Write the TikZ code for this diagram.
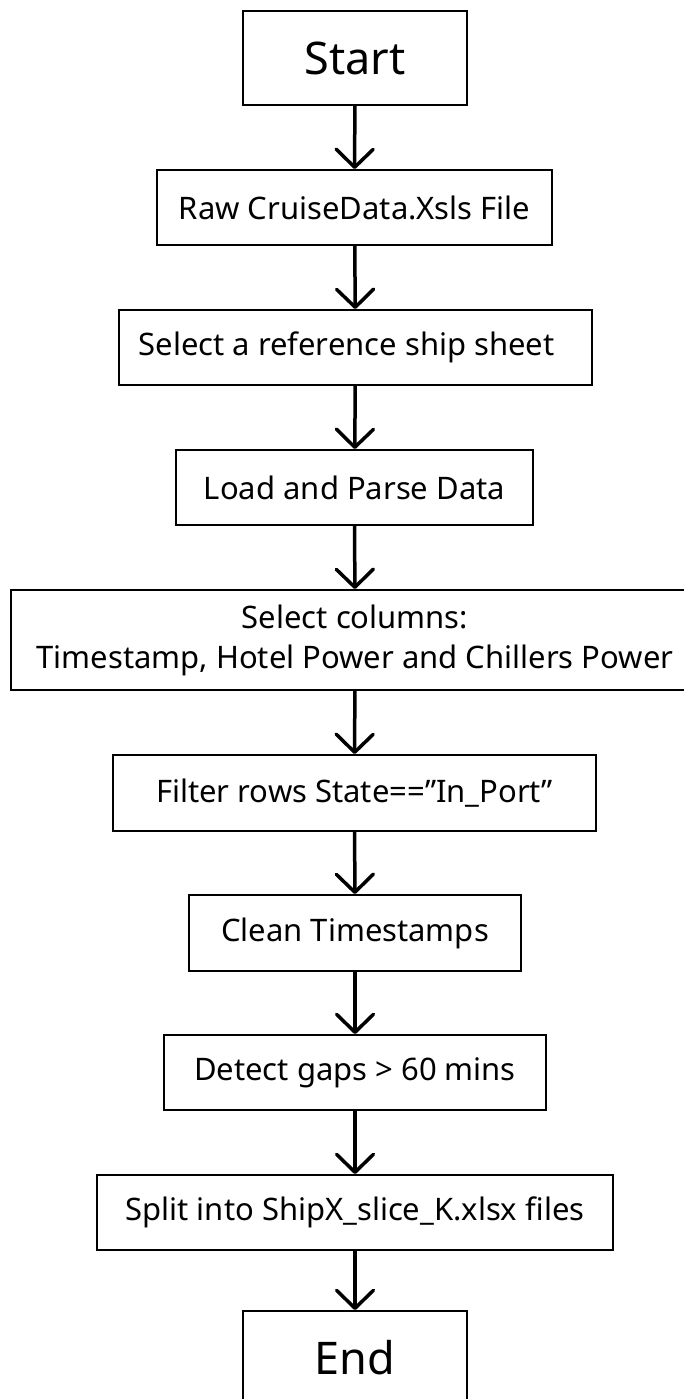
\documentclass[tikz,border=0pt]{standalone}
\usepackage{fontspec}
\setmainfont{Noto Sans}
\usetikzlibrary{arrows.meta}
\tikzset{
  procbox/.style={draw, line width=2pt, minimum height=75pt, inner sep=0pt,
    align=center, font=\fontsize{31}{40}\selectfont},
  termbox/.style={procbox, minimum width=224pt, minimum height=94pt,
    font=\fontsize{45}{50}\selectfont},
  flow/.style={line width=3.5pt, -{Straight Barb[length=18pt,width=37pt,round]}}
}

\begin{document}
\begin{tikzpicture}[x=1pt,y=-1pt]
\useasboundingbox (0,0) rectangle (684,1399);
% steps, top to bottom
\node[termbox] (start) at (355,58) {Start};
\node[procbox, minimum width=395pt] (raw) at (354.5,207.5) {Raw CruiseData.Xsls File};
\node[procbox, minimum width=473pt] (sheet) at (355.5,347.5) {Select a reference ship sheet\hspace*{18pt}};
\node[procbox, minimum width=357pt] (load) at (354.5,487.5) {Load and Parse Data};
\node[procbox, minimum width=688pt, minimum height=100pt] (cols) at (355,640)
  {Select columns:\\Timestamp, Hotel Power and Chillers Power};
\node[procbox, minimum width=483pt, minimum height=76pt] (filter) at (354.5,793) {Filter rows State==”In\_Port”};
\node[procbox, minimum width=332pt, minimum height=76pt] (clean) at (355,933) {Clean Timestamps};
\node[procbox, minimum width=382pt] (gaps) at (355,1072.5) {Detect gaps > 60 mins};
\node[procbox, minimum width=516pt] (split) at (355,1212.5) {Split into ShipX\_slice\_K.xlsx files};
\node[termbox] (finish) at (355,1358) {End};
% connectors
\foreach \a/\b in {start/raw,raw/sheet,sheet/load,load/cols,cols/filter,filter/clean,clean/gaps,gaps/split,split/finish}
  \draw[flow] (\a) -- (\b);
\end{tikzpicture}
\end{document}
